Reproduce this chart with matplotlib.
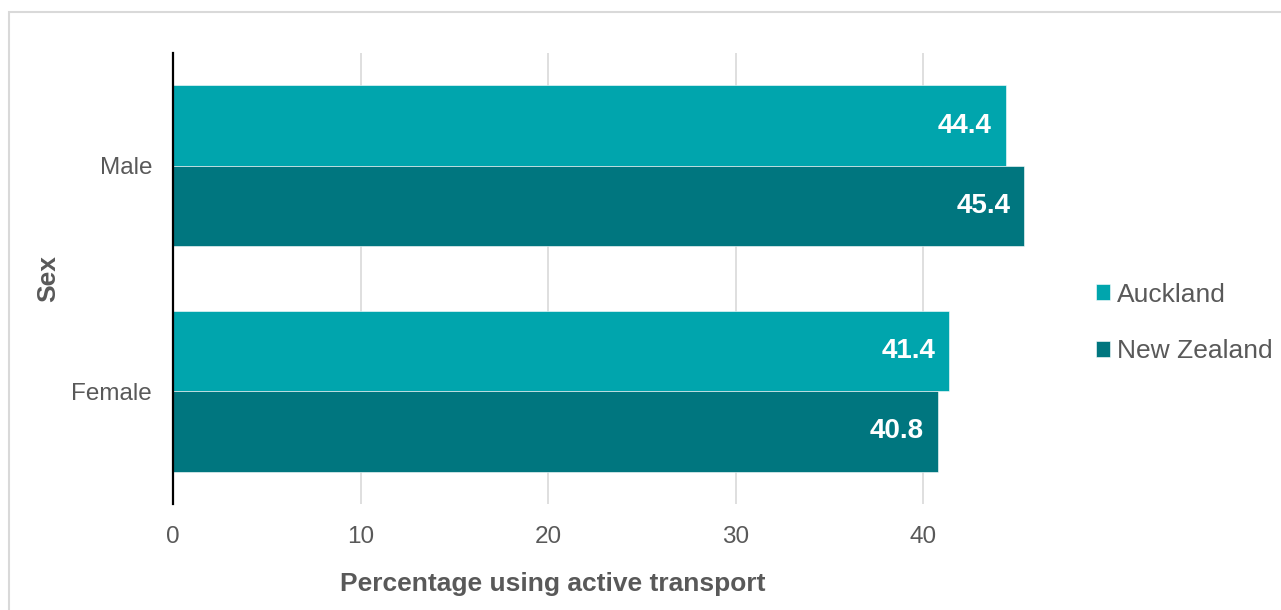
import matplotlib
matplotlib.use("Agg")
import matplotlib.pyplot as plt
import numpy as np
from matplotlib.patches import Rectangle

plt.rcParams['font.family'] = ['Liberation Sans', 'DejaVu Sans']

categories = ["Male", "Female"]
auckland = [44.4, 41.4]
new_zealand = [45.4, 40.8]
series_names = ["Auckland", "New Zealand"]
xticks = [0, 10, 20, 30, 40]

c_akl = "#00A5AD"
c_nz = "#00767F"
grey = "#595959"

fig = plt.figure(figsize=(12.81, 6.10), dpi=100)
ax = fig.add_axes([173/1281, 106/610, 855/1281, 451/610])

y = np.arange(len(categories))
h = 0.356
b1 = ax.barh(y - h/2, auckland, height=h, color=c_akl, label=series_names[0],
             edgecolor="white", linewidth=0.4)
b2 = ax.barh(y + h/2, new_zealand, height=h, color=c_nz, label=series_names[1],
             edgecolor="white", linewidth=0.4)

# value labels inside the bar ends
for bars, vals in [(b1, auckland), (b2, new_zealand)]:
    for r, v in zip(bars, vals):
        ax.annotate(f"{v:.1f}", xy=(v, r.get_y() + r.get_height()/2),
                    xytext=(-10, 0), textcoords="offset points",
                    ha="right", va="center", color="white",
                    fontsize=20, fontweight="bold")

ax.set_xlim(0, 45.6)
ax.set_ylim(1.5, -0.5)
ax.set_xticks(xticks)
ax.set_yticks(y)
ax.set_yticklabels(categories)
ax.tick_params(axis="both", length=0, labelsize=17.5, labelcolor=grey)
ax.tick_params(axis="x", pad=16)
ax.tick_params(axis="y", pad=15)

ax.xaxis.grid(True, color="#D9D9D9", linewidth=1.2)
ax.set_axisbelow(True)
for s in ["top", "right", "bottom"]:
    ax.spines[s].set_visible(False)
ax.spines["left"].set_color("black")
ax.spines["left"].set_linewidth(1.6)
ax.spines["left"].set_zorder(5)

ax.set_xlabel("Percentage using active transport", fontsize=19,
              fontweight="bold", color=grey)
ax.xaxis.set_label_coords(380/855, -68/451)
ax.set_ylabel("Sex", fontsize=19, fontweight="bold", color=grey)
ax.yaxis.set_label_coords(-113/855, 0.5)

fig.legend(handles=[b1, b2], loc="center left",
           bbox_to_anchor=(1072/1281, 1 - 323/610), frameon=False,
           fontsize=19, handlelength=0.55, handleheight=0.55,
           handletextpad=0.25, labelspacing=1.25, labelcolor=grey)

# light frame around the chart
fig.patches.append(Rectangle((8.5/1281, -0.1), 1.2, 1.1 - 12.5/610,
                             transform=fig.transFigure, fill=False,
                             edgecolor="#D9D9D9", linewidth=1.5))

fig.savefig("out.png", dpi=100)
